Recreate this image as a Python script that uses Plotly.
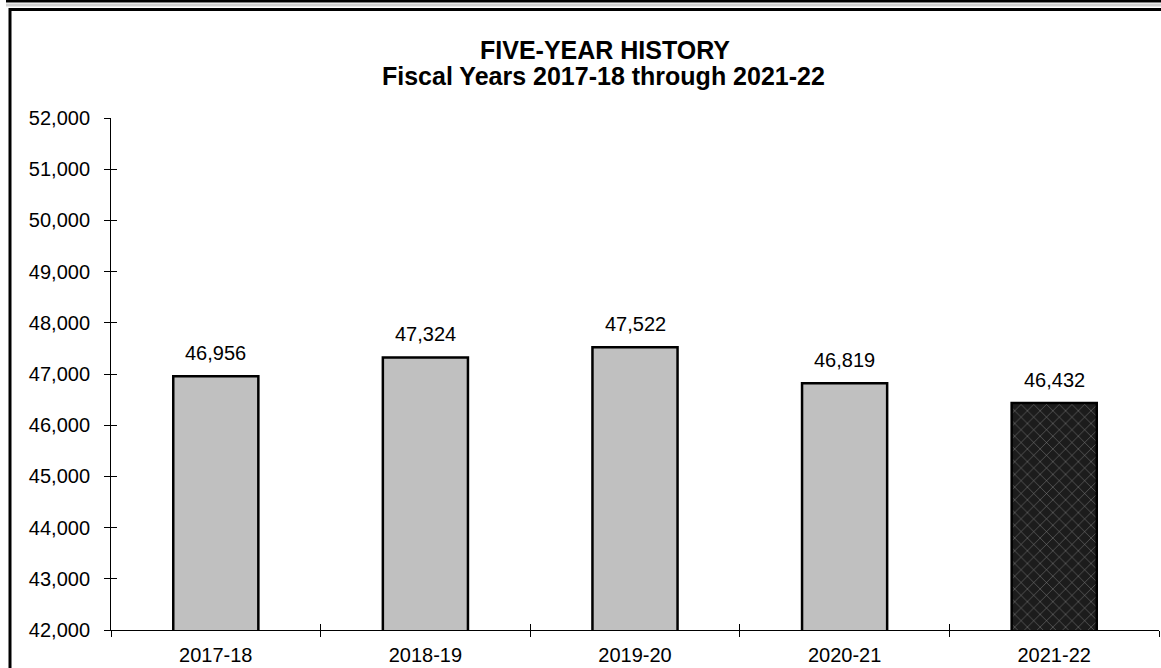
import plotly.graph_objects as go

categories = ["2017-18", "2018-19", "2019-20", "2020-21", "2021-22"]
values = [46956, 47324, 47522, 46819, 46432]
bar_colors = ["#c0c0c0", "#c0c0c0", "#c0c0c0", "#c0c0c0", "#1c1c1c"]
bar_patterns = ["", "", "", "", "x"]
y_ticks = list(range(42000, 52001, 1000))
title_line1 = "FIVE-YEAR HISTORY"
title_line2 = "Fiscal Years 2017-18 through 2021-22"

W, H = 1161, 668
ML, MR, MT, MB = 111, 2, 118, 38
PW, PH = W - ML - MR, H - MT - MB


def px_x(p):
    return (p - ML) / PW


def px_y(p):
    return (H - MB - p) / PH


FONT = "Liberation Sans, Arial, sans-serif"

fig = go.Figure()
fig.add_trace(go.Bar(
    x=categories, y=values,
    marker=dict(color=bar_colors, line=dict(color="black", width=2.5),
                pattern=dict(shape=bar_patterns, fgcolor="#2e2e2e", fgopacity=0.5,
                             size=9, solidity=0.1)),
    hoverinfo="skip",
))
# invisible trace to carry the overlay axes (for crossing tick marks)
fig.add_trace(go.Scatter(
    x=list(range(len(categories))), y=values, xaxis="x2", yaxis="y2",
    mode="markers", marker=dict(opacity=0), hoverinfo="skip", showlegend=False,
))

for c, v in zip(categories, values):
    fig.add_annotation(x=c, y=v, text=f"{v:,}", showarrow=False,
                       yanchor="bottom", yshift=10,
                       font=dict(family=FONT, size=20, color="black"))

fig.add_annotation(xref="paper", yref="paper", x=px_x(605), y=px_y(50),
                   text=f"<b>{title_line1}</b>", showarrow=False,
                   xanchor="center", yanchor="middle",
                   font=dict(family=FONT, size=25, color="black"))
fig.add_annotation(xref="paper", yref="paper", x=px_x(603), y=px_y(76),
                   text=f"<b>{title_line2}</b>", showarrow=False,
                   xanchor="center", yanchor="middle",
                   font=dict(family=FONT, size=25, color="black"))

# frame
fig.add_shape(type="rect", xref="paper", yref="paper",
              x0=px_x(10), y0=px_y(690), x1=px_x(1180), y1=px_y(9.5),
              line=dict(color="black", width=3), fillcolor="rgba(0,0,0,0)", layer="above")
fig.add_shape(type="line", xref="paper", yref="paper",
              x0=px_x(6), y0=px_y(1.2), x1=px_x(1180), y1=px_y(1.2),
              line=dict(color="black", width=2.8))
fig.add_shape(type="line", xref="paper", yref="paper",
              x0=px_x(6), y0=px_y(5), x1=px_x(1180), y1=px_y(5),
              line=dict(color="#d0d0d0", width=3))

fig.update_layout(
    width=W, height=H,
    margin=dict(l=ML, r=MR, t=MT, b=MB, pad=0),
    paper_bgcolor="white", plot_bgcolor="white",
    showlegend=False,
    bargap=0.594,
    font=dict(family=FONT, size=20, color="black"),
    xaxis=dict(
        type="category", range=[-0.5, 4.5], showgrid=False, zeroline=False,
        showline=True, linecolor="black", linewidth=1,
        ticks="outside", tickson="boundaries", ticklen=6, tickcolor="black", tickwidth=1,
        tickfont=dict(family=FONT, size=20, color="black"), ticklabelstandoff=7,
        fixedrange=True,
    ),
    yaxis=dict(
        range=[42000, 52000], tickvals=y_ticks, tickformat=",d",
        showgrid=False, zeroline=False,
        showline=True, linecolor="black", linewidth=1,
        ticks="outside", ticklen=6, tickcolor="black", tickwidth=1,
        tickfont=dict(family=FONT, size=20, color="black"), ticklabelstandoff=10,
        fixedrange=True,
    ),
    xaxis2=dict(
        overlaying="x", anchor="y", range=[-0.5, 4.5],
        tickvals=[-0.5, 0.5, 1.5, 2.5, 3.5, 4.5], ticks="inside", ticklen=6,
        tickcolor="black", tickwidth=1, showticklabels=False, showgrid=False,
        zeroline=False, showline=False, side="bottom", fixedrange=True,
    ),
    yaxis2=dict(
        overlaying="y", anchor="x", range=[42000, 52000], tickvals=y_ticks,
        ticks="inside", ticklen=6, tickcolor="black", tickwidth=1,
        showticklabels=False, showgrid=False, zeroline=False, showline=False,
        side="left", fixedrange=True,
    ),
)

fig.write_html(
    "out.html",
    config={"displayModeBar": False},
    post_script="document.documentElement.style.margin='0';document.body.style.margin='0';"
                "document.body.style.overflow='hidden';",
)
